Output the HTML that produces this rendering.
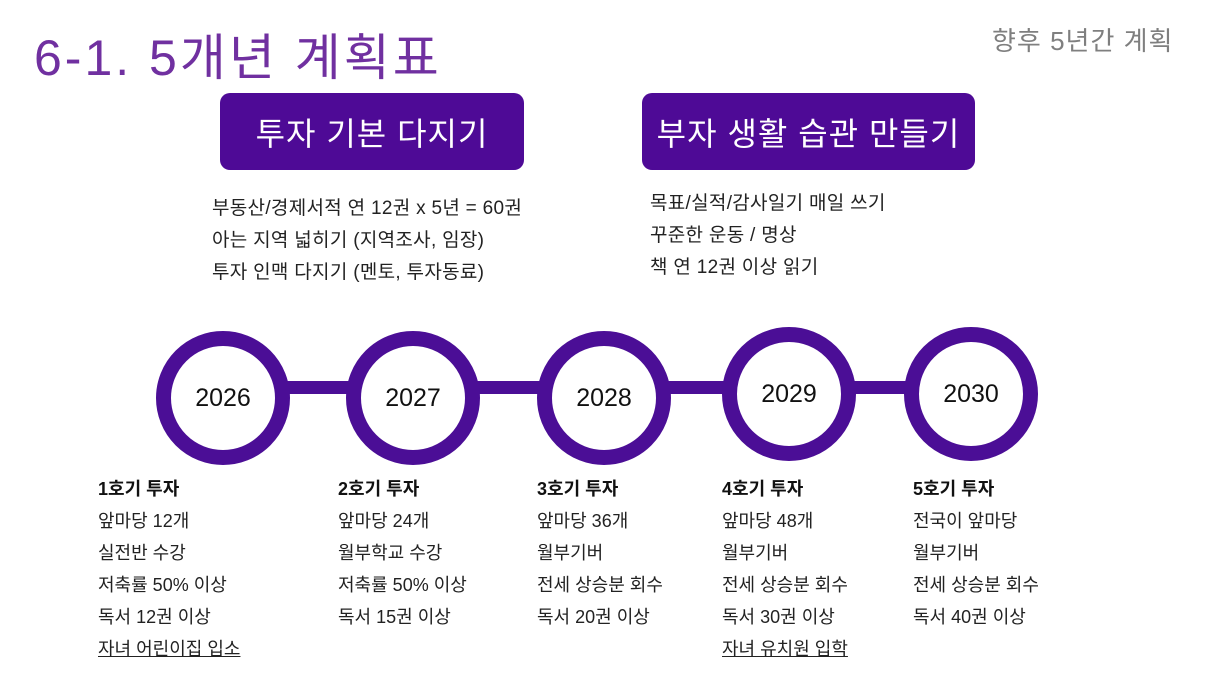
<!DOCTYPE html>
<html><head><meta charset="utf-8"><style>
body{margin:0;width:1216px;height:684px;background:#fff;position:relative;overflow:hidden;font-family:"Liberation Sans","Noto Sans CJK KR",sans-serif;}
.a{position:absolute;white-space:nowrap;}
.t{left:34px;top:18px;font-size:50px;color:#7030a0;letter-spacing:3px;}
.tr{left:992px;top:21px;font-size:26px;color:#7f7f7f;letter-spacing:1px;}
.box{position:absolute;background:#4e0a96;border-radius:10px;color:#fff;font-size:32px;display:flex;align-items:center;justify-content:center;letter-spacing:1px;}
.l{font-size:18px;color:#222;line-height:32px;}
.l b{font-weight:bold;color:#111;}
.u{font-size:19px;letter-spacing:0.3px;}
.c{position:absolute;width:104px;height:104px;border:15px solid #4b0e96;border-radius:50%;background:#fff;display:flex;align-items:center;justify-content:center;font-size:25px;color:#111;}
.bar{position:absolute;background:#4b0e96;height:13px;top:381px;}
u{text-decoration:underline;}
</style></head><body>
<div class="a t">6-1. 5개년 계획표</div>
<div class="a tr">향후 5년간 계획</div>
<div class="box" style="left:220px;top:93px;width:304px;height:77px;">투자 기본 다지기</div>
<div class="box" style="left:642px;top:93px;width:333px;height:77px;">부자 생활 습관 만들기</div>
<div class="a l u" style="left:212px;top:193px;">부동산/경제서적 연 12권 x 5년 = 60권<br>아는 지역 넓히기 (지역조사, 임장)<br>투자 인맥 다지기 (멘토, 투자동료)</div>
<div class="a l u" style="left:650px;top:188px;">목표/실적/감사일기 매일 쓰기<br>꾸준한 운동 / 명상<br>책 연 12권 이상 읽기</div>
<div class="bar" style="left:280px;width:700px;"></div>
<div class="c" style="left:156px;top:331px;">2026</div>
<div class="c" style="left:346px;top:331px;">2027</div>
<div class="c" style="left:537px;top:331px;">2028</div>
<div class="c" style="left:722px;top:327px;">2029</div>
<div class="c" style="left:904px;top:327px;">2030</div>
<div class="a l" style="left:98px;top:473px;"><b>1호기 투자</b><br>앞마당 12개<br>실전반 수강<br>저축률 50% 이상<br>독서 12권 이상<br><u>자녀 어린이집 입소</u></div>
<div class="a l" style="left:338px;top:473px;"><b>2호기 투자</b><br>앞마당 24개<br>월부학교 수강<br>저축률 50% 이상<br>독서 15권 이상</div>
<div class="a l" style="left:537px;top:473px;"><b>3호기 투자</b><br>앞마당 36개<br>월부기버<br>전세 상승분 회수<br>독서 20권 이상</div>
<div class="a l" style="left:722px;top:473px;"><b>4호기 투자</b><br>앞마당 48개<br>월부기버<br>전세 상승분 회수<br>독서 30권 이상<br><u>자녀 유치원 입학</u></div>
<div class="a l" style="left:913px;top:473px;"><b>5호기 투자</b><br>전국이 앞마당<br>월부기버<br>전세 상승분 회수<br>독서 40권 이상</div>
</body></html>
